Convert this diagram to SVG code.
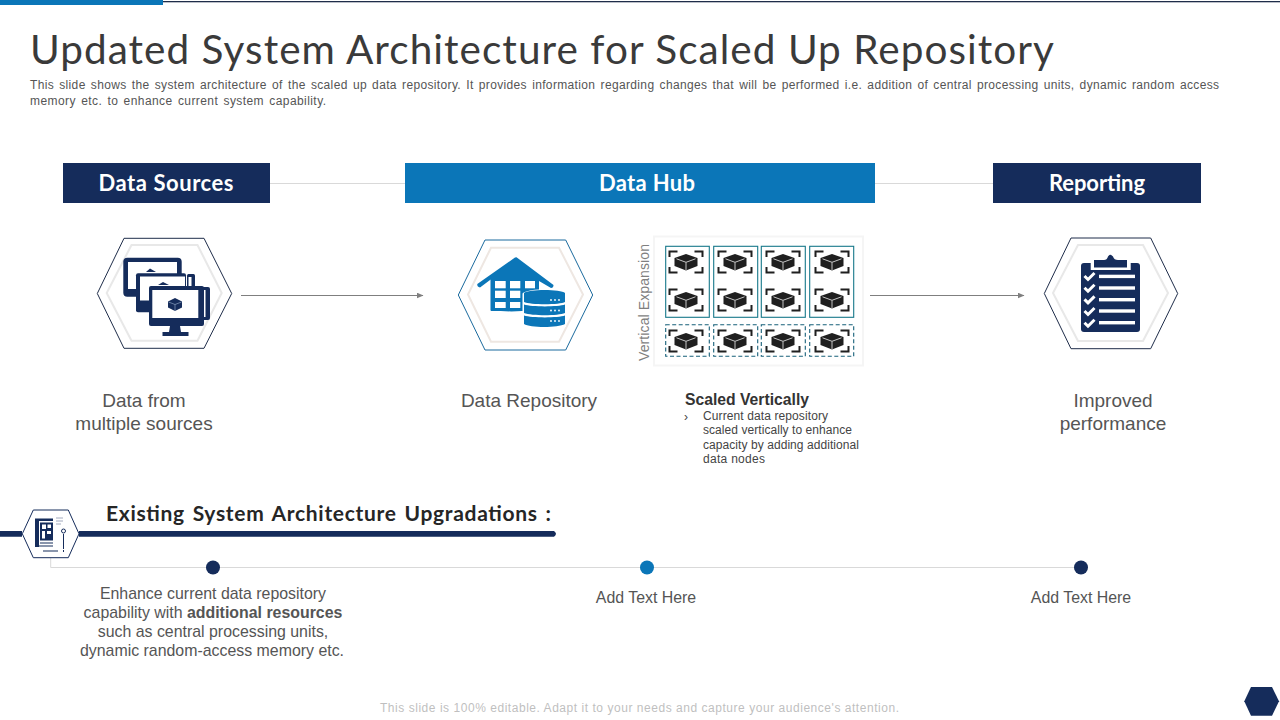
<svg xmlns="http://www.w3.org/2000/svg" width="1280" height="720" viewBox="0 0 1280 720">
<style>
text{font-family:"Liberation Sans",Arial,sans-serif}
.body{font-size:19px;fill:#555;text-anchor:middle}
.sub{font-size:12px;fill:#555;word-spacing:1.5px}
.hd{font-family:"Lato","Liberation Sans",sans-serif;font-weight:700;font-size:22px;fill:#fff;text-anchor:middle}
.lnk{stroke:#d9d9d9;stroke-width:1;fill:none}
.arr{stroke:#7f7f7f;stroke-width:1.2;fill:none;marker-end:url(#ah)}
.navy{fill:#152c5b}.blue{fill:#0b76b8}.wh{fill:#fff}
.inner{fill:none;stroke:#e8e8e8;stroke-width:2}
.cell{fill:none;stroke:#17788a;stroke-width:1.1}
.dash{fill:none;stroke:#17607a;stroke-width:1.1;stroke-dasharray:4 2.5}
.note{font-size:12px;fill:#444}
</style>
<defs>
<marker id="ah" markerWidth="8" markerHeight="8" refX="6.5" refY="3" orient="auto" markerUnits="userSpaceOnUse"><path d="M0 0L7 3L0 6Z" fill="#7f7f7f"/></marker>
<g id="cube">
<path d="M-16.500-5V-10.500H-8.500M8.500-10.500H16.500V-5M16.500 5V10.500H8.500M-8.500 10.500H-16.500V5" fill="none" stroke="#1f1f1f" stroke-width="2"/>
<path d="M0-8L11.500-4V4L0 8.500L-11.500 4V-4Z" fill="#1f1f1f"/>
<path d="M-9.500-3.200L0 0.300L9.500-3.200M0 0.300V8" fill="none" stroke="#c4c4c4" stroke-width="1"/>
</g>
</defs>
<rect width="1280" height="720" fill="#fff"/>
<g id="top-rule">
<rect x="163" y="1" width="1117" height="1.300" fill="#1f2d4a"/>
<rect x="0" y="0" width="163" height="5" class="blue"/>
</g>
<g id="title">
<text x="30" y="64" font-size="40.500" font-weight="400" fill="#3a3a3a" textLength="1024" lengthAdjust="spacing" style="font-family:'Lato','Liberation Sans',sans-serif">Updated System Architecture for Scaled Up Repository</text>
<text x="30" y="89" class="sub" textLength="1189" lengthAdjust="spacing">This slide shows the system architecture of the scaled up data repository. It provides information regarding changes that will be performed i.e. addition of central processing units, dynamic random access</text>
<text x="30" y="105" class="sub" textLength="296" lengthAdjust="spacing">memory etc. to enhance current system capability.</text>
</g>
<g id="connectors">
<path class="lnk" d="M270 183.500H405M875 183.500H993"/>
<path class="arr" d="M241 295.500H423"/>
<path class="arr" d="M870 295.500H1024"/>
<path class="lnk" d="M50.700 557V567.500H1081"/>
</g>
<g id="hdr-data-sources"><rect x="63" y="163" width="207" height="40" class="navy"/><text x="166" y="191" class="hd" textLength="135" lengthAdjust="spacing">Data Sources</text></g>
<g id="hdr-data-hub"><rect x="405" y="163" width="470" height="40" class="blue"/><text x="647" y="191" class="hd" textLength="96" lengthAdjust="spacing">Data Hub</text></g>
<g id="hdr-reporting"><rect x="993" y="163" width="208" height="40" class="navy"/><text x="1097" y="191" class="hd" textLength="96" lengthAdjust="spacing">Reporting</text></g>
<g id="node-sources">
<path d="M124 238.300H204L231.700 293.500L204 348.300H124L97.300 293.500Z" fill="#fff" stroke="#1f2d4a" stroke-width="1"/>
<path class="inner" d="M131.500 245H197.500L221.700 293L197.500 340.700H131.500L106.700 293Z"/>
<rect x="123.300" y="257.700" width="58.400" height="39" rx="4" class="navy"/>
<rect x="128" y="262" width="49" height="27" class="wh"/>
<path d="M146 272L150 268.500L156 272Z" class="navy"/>
<rect x="136" y="273.300" width="50" height="39" rx="2" class="navy"/>
<rect x="140" y="276.500" width="45" height="24" class="wh"/>
<rect x="187" y="274" width="8" height="37" rx="1.500" class="navy"/><rect x="188.500" y="277" width="3" height="14" class="wh"/>
<path d="M158 285L163 282L169 285Z" class="navy"/>
<rect x="190" y="287" width="20" height="33" rx="2" class="navy"/><rect x="199" y="290" width="6.500" height="27" class="wh"/>
<rect x="149" y="286" width="55" height="40" rx="2" class="navy"/>
<rect x="152.300" y="290" width="46" height="28" class="wh"/>
<path d="M170 326H180L181 332H188.500V336H162.500V332H169Z" class="navy"/>
<path d="M175 298L182 301.500V307.500L175 311L168 307.500V301.500Z" class="navy"/>
<path d="M175 304.500V311M168.500 302L175 304.500L181.500 302" stroke="#9db3d0" stroke-width="0.600" fill="none"/>
<text x="144" y="406.500" class="body">Data from</text>
<text x="144" y="429.500" class="body">multiple sources</text>
</g>
<g id="node-repository">
<path d="M485 240H565.700L592.700 295L565.700 350H485L458.300 295Z" fill="#fff" stroke="#1a6a9e" stroke-width="1"/>
<path class="inner" d="M491 247.700H559L583 294.500L559 341.700H491L468 294.500Z" style="stroke:#eee7e2"/>
<path d="M515 257.500Q515 257.300 516.500 257.300L553.500 285Q553.500 288 551 288L539 281V290H531V309.500Q515 313 490.700 310V279.500L480 287.500Q477 287 477.300 284Z" class="blue"/>
<path d="M490.700 275H535V311H490.700Z" class="blue"/>
<g class="wh"><rect x="495" y="281" width="10.700" height="7.300"/><rect x="510" y="281" width="10.300" height="7.300"/><rect x="525" y="281" width="10" height="7.300"/>
<rect x="495" y="290.700" width="10.700" height="7.300"/><rect x="510" y="290.700" width="10.300" height="7.300"/>
<rect x="495" y="302" width="10.700" height="6"/><rect x="510" y="302" width="10.300" height="6"/></g>
<path d="M522.500 293.500C526 288 562 288 566 292V327H522.500Z" class="wh"/>
<path d="M524 293C528 289 561 289 565 293V302C560 305 530 305 524 302Z" class="blue"/>
<path d="M524 304.500C532 307 558 307 565 304.500V313C558 316 532 316 524 313Z" class="blue"/>
<path d="M524 315.500C532 318 558 318 565 315.500V324C558 328 530 328 524 324Z" class="blue"/>
<g class="wh"><circle cx="551" cy="300" r="0.900"/><circle cx="555" cy="300" r="0.900"/><circle cx="559" cy="300" r="0.900"/><circle cx="551" cy="310.500" r="0.900"/><circle cx="555" cy="310.500" r="0.900"/><circle cx="559" cy="310.500" r="0.900"/><circle cx="551" cy="321" r="0.900"/><circle cx="555" cy="321" r="0.900"/><circle cx="559" cy="321" r="0.900"/></g>
<text x="529" y="406.500" class="body">Data Repository</text>
</g>
<g id="node-scaled">
<rect x="654" y="236.500" width="209" height="129" fill="#fff" stroke="#f5f5f5" stroke-width="2"/>
<text transform="translate(649 361) rotate(-90)" font-size="14" fill="#7f7f7f" textLength="117" lengthAdjust="spacing">Vertical Expansion</text>
<rect class="cell" x="665.700" y="246.300" width="43.600" height="71"/><rect class="cell" x="713.700" y="246.300" width="44" height="71"/><rect class="cell" x="761.300" y="246.300" width="44" height="71"/><rect class="cell" x="809.700" y="246.300" width="44" height="71"/>
<rect class="dash" x="665.700" y="324.700" width="43.600" height="31.600"/><rect class="dash" x="713.700" y="324.700" width="44" height="31.600"/><rect class="dash" x="761.300" y="324.700" width="44" height="31.600"/><rect class="dash" x="809.700" y="324.700" width="44" height="31.600"/>
<use href="#cube" x="686" y="262"/><use href="#cube" x="735" y="262"/><use href="#cube" x="783" y="262"/><use href="#cube" x="832" y="262"/>
<use href="#cube" x="686" y="300"/><use href="#cube" x="735" y="300"/><use href="#cube" x="783" y="300"/><use href="#cube" x="832" y="300"/>
<use href="#cube" x="686" y="341"/><use href="#cube" x="735" y="341"/><use href="#cube" x="783" y="341"/><use href="#cube" x="832" y="341"/>
<text x="685" y="405" font-size="16" font-weight="700" fill="#333" textLength="124" lengthAdjust="spacingAndGlyphs">Scaled Vertically</text>
<text x="684" y="421" class="note">›</text>
<text x="703" y="420" class="note" textLength="125" lengthAdjust="spacing">Current data repository</text>
<text x="703" y="434" class="note" textLength="149" lengthAdjust="spacing">scaled vertically to enhance</text>
<text x="703" y="449" class="note" textLength="156" lengthAdjust="spacing">capacity by adding additional</text>
<text x="703" y="463" class="note" textLength="62" lengthAdjust="spacing">data nodes</text>
</g>
<g id="node-reporting">
<path d="M1071 238H1150.700L1177.700 293.500L1150.700 348.700H1071L1044.300 293.500Z" fill="#fff" stroke="#1f2d4a" stroke-width="1"/>
<path class="inner" d="M1078 245H1143L1168 293L1143 341H1078L1053 293Z"/>
<rect x="1081" y="263" width="59" height="69" rx="3" class="navy"/>
<path d="M1090.700 263H1130.700V270H1090.700Z" class="wh"/>
<path d="M1094 260H1127V267.500H1094Z" class="navy"/>
<path d="M1104 260Q1107 260 1108 256.500Q1110 253 1113 256.500Q1114 260 1118 260Z" class="navy"/>
<g fill="#fff"><rect x="1099" y="274.700" width="36" height="3.400"/><rect x="1099" y="286.300" width="36" height="3.400"/><rect x="1099" y="298" width="36" height="3.400"/><rect x="1099" y="309.300" width="36" height="3.400"/><rect x="1099" y="321" width="36" height="3.400"/></g>
<g fill="none" stroke="#fff" stroke-width="3"><path d="M1084.500 276L1088 279.500L1094.500 273"/><path d="M1084.500 287.700L1088 291.200L1094.500 284.700"/><path d="M1084.500 299.400L1088 302.900L1094.500 296.400"/><path d="M1084.500 311L1088 314.500L1094.500 308"/><path d="M1084.500 322.700L1088 326.200L1094.500 319.700"/></g>
<text x="1113" y="406.500" class="body">Improved</text>
<text x="1113" y="429.500" class="body">performance</text>
</g>
<g id="upgrade-header">
<path d="M0 531H22V536.700H0ZM79 531H554Q558 533.800 554 536.700H79Z" class="navy"/>
<path d="M33.300 510H68.300L79 533.800L68.300 557.700H33.300L22.300 533.800Z" fill="#fff" stroke="#152c5b" stroke-width="1"/>
<path d="M35 518.500H53V521H35ZM35 521H39V547H35Z" class="navy"/>
<rect x="40" y="522.500" width="13" height="18" class="navy"/>
<path d="M42 524.500H46V529H42ZM47.500 524.500H51V528H47.500ZM42 531H45V538.500H42ZM47 531H51V534H47Z" class="wh"/>
<path d="M40 543H53M39 546H53M43 551H58" stroke="#152c5b" stroke-width="1.200"/>
<path d="M56 518H63M56 521H63M56 524H61" stroke="#8a96ad" stroke-width="0.800"/>
<circle cx="63.500" cy="531" r="2" fill="none" stroke="#152c5b" stroke-width="1"/>
<path d="M63.500 534V549M63.500 550V552" stroke="#152c5b" stroke-width="1"/>
<text x="106" y="521" font-size="21" font-weight="700" fill="#262626" textLength="445" lengthAdjust="spacing" style="font-family:'Lato','Liberation Sans',sans-serif;word-spacing:2px">Existing System Architecture Upgradations :</text>
</g>
<g id="item-1">
<circle cx="213" cy="567.500" r="7" class="navy"/>
<text x="213" y="599" font-size="15.900" fill="#555" text-anchor="middle">Enhance current data repository</text>
<text x="213" y="618" font-size="15.900" fill="#555" text-anchor="middle">capability with <tspan font-weight="700">additional resources</tspan></text>
<text x="213" y="637" font-size="15.900" fill="#555" text-anchor="middle">such as central processing units,</text>
<text x="212" y="656" font-size="15.900" fill="#555" text-anchor="middle">dynamic random-access memory etc.</text>
</g>
<g id="item-2"><circle cx="647" cy="567.500" r="7" class="blue"/><text x="646" y="603" font-size="15.900" fill="#555" text-anchor="middle">Add Text Here</text></g>
<g id="item-3"><circle cx="1081" cy="567.500" r="7" class="navy"/><text x="1081" y="603" font-size="15.900" fill="#555" text-anchor="middle">Add Text Here</text></g>
<g id="footer">
<text x="380" y="712" font-size="12" fill="#bfbfbf" textLength="519" lengthAdjust="spacing">This slide is 100% editable. Adapt it to your needs and capture your audience's attention.</text>
<path d="M1251 687H1272L1279 701.200L1272 715.700H1251L1244.300 701.200Z" class="navy"/>
</g>
</svg>
